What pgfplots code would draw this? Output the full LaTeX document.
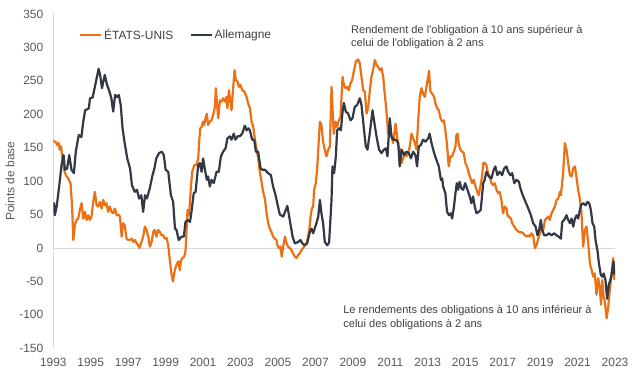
\documentclass[border=0pt]{standalone}
\usepackage{pgfplots}
\pgfplotsset{compat=1.18}
\usepackage{pgfplotstable}
\usepackage{fontspec}
\setmainfont{Liberation Sans}
\definecolor{usorange}{RGB}{237,113,20}
\definecolor{dedark}{RGB}{50,56,68}
\definecolor{txtgray}{RGB}{89,89,89}
\definecolor{anngray}{RGB}{64,64,64}
\definecolor{gridgray}{RGB}{217,217,217}

\pgfplotstableread{
x y
1993.0 160
1993.03 160
1993.14 158
1993.21 154
1993.28 157
1993.35 147
1993.42 152
1993.5 129
1993.57 117
1993.67 109
1993.8 104
1993.92 97
1994.0 64
1994.07 12
1994.15 34
1994.24 42
1994.33 44
1994.42 57
1994.51 67
1994.6 44
1994.69 54
1994.78 42
1994.87 49
1994.95 42
1995.04 47
1995.13 69
1995.22 84
1995.31 64
1995.4 62
1995.49 69
1995.58 59
1995.67 72
1995.76 64
1995.84 67
1995.93 54
1996.02 62
1996.11 54
1996.2 52
1996.29 59
1996.38 49
1996.47 50
1996.56 47
1996.65 17
1996.73 37
1996.82 34
1996.91 14
1997.0 12
1997.09 12
1997.18 14
1997.27 9
1997.36 12
1997.45 7
1997.54 4
1997.6 0
1997.71 9
1997.8 17
1997.89 32
1997.98 27
1998.07 17
1998.16 2
1998.25 9
1998.34 24
1998.42 27
1998.51 17
1998.6 27
1998.69 24
1998.78 19
1998.87 19
1998.96 14
1999.05 15
1999.14 4
1999.23 -20
1999.32 -40
1999.39 -50
1999.49 -33
1999.58 -25
1999.67 -20
1999.76 -33
1999.81 -20
1999.89 -15
1999.99 -13
2000.06 -5
2000.12 29
2000.17 57
2000.24 49
2000.3 69
2000.35 92
2000.42 114
2000.53 124
2000.65 124
2000.74 134
2000.79 159
2000.85 179
2000.92 181
2001.0 189
2001.06 184
2001.13 194
2001.2 201
2001.27 184
2001.36 189
2001.45 191
2001.54 199
2001.63 211
2001.68 239
2001.75 214
2001.81 194
2001.9 221
2001.98 219
2002.07 224
2002.16 219
2002.25 226
2002.3 209
2002.38 236
2002.45 221
2002.52 206
2002.61 241
2002.68 266
2002.75 251
2002.84 249
2002.91 241
2003.0 244
2003.09 236
2003.2 234
2003.32 226
2003.41 216
2003.5 209
2003.59 189
2003.68 181
2003.76 164
2003.85 149
2003.94 134
2004.03 114
2004.12 99
2004.21 84
2004.3 74
2004.39 52
2004.48 37
2004.56 29
2004.65 24
2004.74 17
2004.83 14
2004.92 12
2004.97 4
2005.05 0
2005.13 2
2005.2 -13
2005.28 2
2005.37 17
2005.46 7
2005.54 2
2005.63 0
2005.72 -3
2005.81 -8
2005.9 -13
2005.99 -15
2006.08 -10
2006.17 -8
2006.26 -3
2006.35 0
2006.43 4
2006.52 7
2006.61 17
2006.67 27
2006.74 47
2006.81 59
2006.88 62
2006.93 87
2007.02 97
2007.09 117
2007.16 152
2007.24 189
2007.32 184
2007.41 159
2007.5 147
2007.59 137
2007.68 147
2007.77 152
2007.86 241
2007.91 211
2007.98 171
2008.07 189
2008.16 181
2008.25 191
2008.34 196
2008.39 224
2008.45 256
2008.52 244
2008.61 239
2008.7 241
2008.78 236
2008.87 246
2008.96 251
2009.05 264
2009.16 279
2009.28 282
2009.37 276
2009.46 256
2009.55 236
2009.64 234
2009.73 201
2009.82 211
2009.9 234
2009.99 256
2010.08 266
2010.17 281
2010.26 274
2010.35 271
2010.44 266
2010.53 269
2010.62 256
2010.7 231
2010.79 206
2010.88 171
2010.97 186
2011.06 167
2011.15 157
2011.28 186
2011.42 154
2011.51 147
2011.6 127
2011.68 134
2011.77 142
2011.86 137
2011.95 142
2012.04 152
2012.13 171
2012.22 164
2012.31 157
2012.4 147
2012.49 191
2012.57 226
2012.66 239
2012.75 231
2012.84 226
2012.93 241
2013.02 256
2013.07 265
2013.14 234
2013.23 231
2013.34 226
2013.41 216
2013.5 209
2013.59 206
2013.68 194
2013.77 189
2013.86 191
2013.94 176
2014.03 154
2014.12 122
2014.21 137
2014.3 137
2014.39 144
2014.48 152
2014.53 169
2014.59 171
2014.66 154
2014.75 147
2014.83 144
2014.92 142
2015.01 127
2015.1 122
2015.19 112
2015.28 104
2015.37 97
2015.46 102
2015.55 92
2015.64 84
2015.72 79
2015.81 92
2015.9 107
2015.96 127
2016.04 127
2016.13 124
2016.22 112
2016.31 107
2016.4 97
2016.49 94
2016.58 97
2016.67 87
2016.76 82
2016.84 84
2016.93 72
2017.02 52
2017.12 62
2017.21 59
2017.26 49
2017.33 47
2017.44 44
2017.51 37
2017.62 32
2017.74 27
2017.87 24
2017.97 24
2018.1 22
2018.19 19
2018.28 17
2018.37 19
2018.45 17
2018.54 22
2018.63 19
2018.72 0
2018.81 4
2018.9 14
2018.99 22
2019.08 32
2019.17 27
2019.26 42
2019.34 44
2019.43 47
2019.52 42
2019.61 52
2019.7 57
2019.79 62
2019.88 72
2019.97 74
2020.06 84
2020.11 79
2020.18 99
2020.23 112
2020.27 132
2020.32 157
2020.41 147
2020.5 127
2020.59 109
2020.68 107
2020.77 119
2020.86 122
2020.95 104
2021.03 87
2021.12 74
2021.21 52
2021.3 2
2021.39 27
2021.48 32
2021.57 7
2021.66 -23
2021.75 -33
2021.84 -43
2021.92 -38
2022.01 -70
2022.1 -45
2022.19 -60
2022.25 -85
2022.32 -48
2022.39 -73
2022.46 -80
2022.55 -105
2022.64 -88
2022.73 -60
2022.81 -43
2022.9 -15
2022.97 -48
}\usdata

\pgfplotstableread{
x y
1993.0 65
1993.04 67
1993.08 49
1993.18 62
1993.3 89
1993.44 124
1993.55 139
1993.62 117
1993.74 119
1993.85 139
1993.97 117
1994.1 112
1994.2 144
1994.36 169
1994.5 166
1994.6 189
1994.7 206
1994.9 209
1994.96 224
1995.1 225
1995.28 249
1995.42 268
1995.5 259
1995.6 239
1995.75 259
1995.87 244
1996.0 234
1996.1 224
1996.2 204
1996.3 229
1996.4 226
1996.5 229
1996.6 214
1996.7 179
1996.8 159
1996.95 134
1997.1 119
1997.2 94
1997.35 84
1997.47 87
1997.58 74
1997.7 79
1997.8 54
1997.9 79
1998.0 74
1998.15 89
1998.3 109
1998.4 119
1998.5 134
1998.65 142
1998.8 144
1998.9 139
1999.0 117
1999.14 114
1999.28 79
1999.4 69
1999.5 29
1999.58 27
1999.7 12
1999.85 17
1999.97 17
2000.06 39
2000.2 42
2000.3 39
2000.38 54
2000.5 82
2000.6 84
2000.74 124
2000.83 127
2000.92 114
2001.0 134
2001.1 117
2001.2 102
2001.27 107
2001.36 92
2001.45 102
2001.57 97
2001.72 114
2001.84 114
2001.95 137
2002.07 144
2002.2 149
2002.3 164
2002.43 167
2002.52 162
2002.64 171
2002.73 162
2002.84 167
2002.96 167
2003.09 171
2003.23 183
2003.32 176
2003.41 179
2003.5 176
2003.62 162
2003.73 162
2003.82 144
2003.94 144
2004.07 119
2004.17 117
2004.3 117
2004.47 112
2004.62 109
2004.74 92
2004.87 79
2005.0 62
2005.1 50
2005.28 47
2005.5 63
2005.63 42
2005.78 17
2005.9 7
2006.08 9
2006.2 12
2006.3 7
2006.43 4
2006.56 7
2006.7 24
2006.79 29
2006.88 22
2007.02 34
2007.15 47
2007.24 72
2007.32 52
2007.41 37
2007.5 9
2007.63 4
2007.73 8
2007.86 72
2007.91 122
2008.0 112
2008.09 137
2008.16 176
2008.27 179
2008.36 176
2008.45 204
2008.52 217
2008.62 204
2008.75 201
2008.87 191
2008.98 194
2009.1 211
2009.23 214
2009.37 224
2009.46 214
2009.58 181
2009.69 152
2009.78 147
2009.9 171
2010.05 206
2010.14 189
2010.26 167
2010.4 147
2010.53 142
2010.65 147
2010.76 149
2010.85 137
2010.97 194
2011.06 167
2011.15 162
2011.3 162
2011.42 157
2011.5 122
2011.6 147
2011.74 139
2011.86 144
2011.99 142
2012.1 134
2012.22 144
2012.34 139
2012.43 122
2012.52 152
2012.63 154
2012.75 162
2012.88 159
2013.02 164
2013.1 171
2013.2 157
2013.34 142
2013.46 132
2013.59 122
2013.7 102
2013.77 104
2013.82 92
2013.94 82
2014.03 54
2014.14 49
2014.23 52
2014.3 44
2014.4 62
2014.48 82
2014.55 97
2014.62 87
2014.7 99
2014.8 89
2014.89 87
2015.0 97
2015.12 87
2015.24 77
2015.33 67
2015.42 77
2015.51 62
2015.6 52
2015.72 54
2015.83 57
2015.96 97
2016.04 102
2016.13 114
2016.26 107
2016.4 104
2016.52 117
2016.61 122
2016.72 109
2016.84 114
2016.97 109
2017.08 119
2017.2 122
2017.29 114
2017.41 109
2017.51 112
2017.62 97
2017.74 102
2017.87 99
2017.97 87
2018.1 77
2018.22 69
2018.37 59
2018.51 49
2018.63 37
2018.76 32
2018.86 19
2018.95 27
2019.04 42
2019.11 27
2019.22 19
2019.34 19
2019.47 22
2019.61 19
2019.75 22
2019.88 19
2020.0 17
2020.11 14
2020.18 39
2020.29 42
2020.41 49
2020.5 42
2020.59 37
2020.68 44
2020.77 32
2020.86 44
2020.95 49
2021.03 44
2021.18 64
2021.3 67
2021.43 64
2021.53 69
2021.62 67
2021.71 57
2021.8 37
2021.89 32
2021.96 12
2022.07 -5
2022.14 -23
2022.24 -40
2022.32 -43
2022.4 -38
2022.49 -48
2022.58 -76
2022.67 -55
2022.78 -45
2022.85 -33
2022.92 -20
2022.97 -40
}\dedata

\begin{document}
\begin{tikzpicture}[font=\fontsize{12}{13.5}\selectfont]
\begin{axis}[
  scale only axis,
  width=561.7bp, height=334.3bp,
  xmin=1993, xmax=2023, ymin=-150, ymax=350,
  xtick={1993,1995,...,2023},
  ytick={-150,-100,...,350},
  /pgf/number format/assume math mode=true,
  x tick label style={/pgf/number format/1000 sep={}, yshift=-6bp},
  y tick label style={xshift=-6.5bp},
  tick label style={text=txtgray, font=\fontsize{12}{13.5}\selectfont},
  major tick length=0pt,
  axis lines*=left,
  x axis line style={draw=none},
  y axis line style={draw=gridgray, line width=0.75bp},
  extra y ticks={0},
  extra y tick labels={},
  extra y tick style={grid=major, major grid style={draw=gridgray, line width=0.75bp}},
  ylabel={Points de base},
  ylabel style={at={(axis description cs:-0.077,0.5)}, anchor=center, text=txtgray, font=\fontsize{12}{13.5}\selectfont},
  legend style={at={(axis description cs:0.040,0.937)}, anchor=west, draw=none, fill=none,
    legend columns=2, text=anngray, font=\fontsize{12}{13.5}\selectfont,
    /tikz/every even column/.append style={column sep=14bp}},
  legend image code/.code={\draw[#1] (0bp,0bp) -- (21bp,0bp);},
]
\addplot[usorange, line width=2.2bp, line join=round] table[x=x,y=y] {\usdata};
\addlegendentry{ÉTATS-UNIS}
\addplot[dedark, line width=2.2bp, line join=round] table[x=x,y=y] {\dedata};
\addlegendentry{Allemagne}
\node[anchor=north west, align=left, inner sep=0pt, text=anngray, font=\fontsize{11.1}{13.3}\selectfont] at (axis cs:2008.9,334)
  {Rendement de l\textquotesingle obligation à 10 ans supérieur à\\celui de l\textquotesingle obligation à 2 ans};
\node[anchor=north west, align=left, inner sep=0pt, text=anngray, font=\fontsize{11.1}{13.8}\selectfont] at (axis cs:2008.48,-86)
  {Le rendements des obligations à 10 ans inférieur à\\celui des obligations à 2 ans};
\coordinate (bl) at (rel axis cs:0,0);
\coordinate (tr) at (rel axis cs:1,1);
\end{axis}
\pgfresetboundingbox
\path ([shift={(-53.3bp,-35.7bp)}]bl) rectangle ([shift={(25bp,14bp)}]tr);
\end{tikzpicture}
\end{document}
